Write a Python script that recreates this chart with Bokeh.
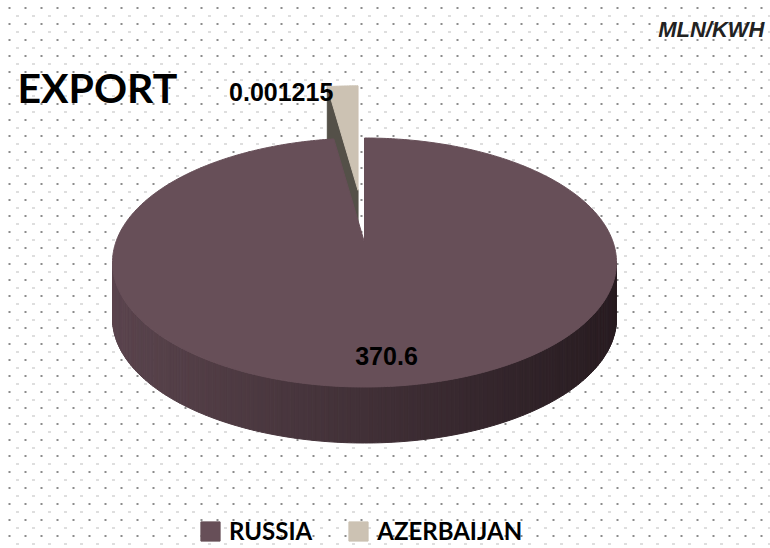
import numpy as np
from bokeh.plotting import figure
from bokeh.models import Range1d, Legend, LegendItem
from bokeh.core.properties import value
from bokeh.embed import file_html
from bokeh.resources import INLINE

# ---- data ----
countries = ["RUSSIA", "AZERBAIJAN"]
values = [370.6, 0.001215]
value_labels = ["370.6", "0.001215"]
top_colors = ["#674F58", "#CCC2B3"]
face_colors = ["#5A454E", "#545048"]
title_text = "EXPORT"
unit_text = "MLN/KWH"

# ---- layout / style ----
W, H = 770, 548
cx, cy, rx, ry = 364.0, 262.0, 252.0, 124.5
apex_dy = -20.0
depth = 56.0
min_angle = 7.0
explode = [0.0, 0.42]
side_left = np.array([0x5A, 0x44, 0x4D], float)
side_right = np.array([0x28, 0x1C, 0x21], float)

p = figure(width=W, height=H, output_backend="svg", toolbar_location=None,
           x_range=Range1d(0, W), y_range=Range1d(H, 0),
           x_axis_type=None, y_axis_type=None, min_border=0)
p.grid.visible = False
p.outline_line_color = None
p.background_fill_color = "white"

# dotted background
gx = np.arange(9, W, 16.0)
gy = np.arange(7.5, H, 16.0)
X1, Y1 = np.meshgrid(gx, gy)
p.rect(X1.ravel(), Y1.ravel(), width=2, height=2, width_units="screen",
       height_units="screen", fill_color="#8C8C8C", line_color=None)
X2, Y2 = np.meshgrid(gx + 8, gy + 8)
p.rect(X2.ravel(), Y2.ravel(), width=3, height=1, width_units="screen",
       height_units="screen", fill_color="#BDBDBD", line_color=None)

# angles (clockwise from top)
total = sum(values)
sweeps = [max(v / total * 360.0, min_angle) for v in values]
sweeps[0] = 360.0 - sum(sweeps[1:])
starts = []
a = 90.0
for s in sweeps:
    starts.append(a)
    a -= s


def rim(t, ox=0.0, oy=0.0):
    r = np.radians(t)
    return cx + ox + rx * np.cos(r), cy + oy - ry * np.sin(r)


# --- Azerbaijan (exploded sliver) ---
i = 1
t0, t1 = starts[i], starts[i] - sweeps[i]
bis = np.radians((t0 + t1) / 2)
ox, oy = rx * explode[i] * np.cos(bis), -ry * explode[i] * np.sin(bis)
ax, ay = cx + ox, cy + apex_dy + oy
lx, ly = rim(t0, ox, oy)   # left (counter-clockwise) rim corner
p.patch([ax, lx, lx, ax], [ay, ly, ly + depth, ay + depth],
        fill_color=face_colors[i], line_color=face_colors[i])
ts = np.linspace(t0, t1, 20)
px, py = rim(ts, ox, oy)
az_top = p.patch(np.r_[ax, px], np.r_[ay, py], fill_color=top_colors[i],
                 line_color=top_colors[i])

# --- Russia ---
i = 0
t0, t1 = starts[i], starts[i] - sweeps[i]
edges = np.linspace(-180, 0, 181)
xs, ys, cols = [], [], []
for a0, a1 in zip(edges[:-1], edges[1:]):
    x0, y0 = rim(a0)
    x1, y1 = rim(a1)
    f = ((x0 + x1) / 2 - (cx - rx)) / (2 * rx)
    c = side_left + (side_right - side_left) * f
    col = "#%02x%02x%02x" % tuple(int(round(v)) for v in c)
    xs.append([x0, x1, x1, x0])
    ys.append([y0, y1, y1 + depth, y0 + depth])
    cols.append(col)
p.patches(xs, ys, fill_color=cols, line_color=cols, line_width=1)
ts = np.linspace(t0, t1, 500)
px, py = rim(ts)
ru_top = p.patch(np.r_[cx, px], np.r_[cy + apex_dy, py], fill_color=top_colors[i],
                 line_color=top_colors[i])

# labels
p.text([cx + 22], [cy + 0.75 * ry], text=[value_labels[0]], text_font=value("Liberation Sans"),
       text_font_style="bold", text_font_size="25px", text_align="center",
       text_baseline="alphabetic", text_color="black")
p.text([lx + 6], [ly + 5], text=[value_labels[1]], text_font=value("Liberation Sans"),
       text_font_style="bold", text_font_size="25px", text_align="right",
       text_baseline="alphabetic", text_color="black")

p.text([17], [87], text=[title_text], text_font=value("Lato"), text_font_style="bold",
       text_font_size="41px", text_align="left", text_baseline="alphabetic",
       text_color="black")
p.text([764], [29], text=[unit_text], text_font=value("Liberation Sans"),
       text_font_style="bold italic", text_font_size="22px", text_align="right",
       text_baseline="alphabetic", text_color="#222222")

legend = Legend(items=[LegendItem(label=countries[0], renderers=[ru_top]),
                       LegendItem(label=countries[1], renderers=[az_top])],
                orientation="horizontal", location=(198, 3),
                glyph_width=24, glyph_height=24, label_standoff=7, spacing=34,
                label_text_font="Lato", label_text_font_style="bold",
                label_text_font_size="24px", label_text_color="black",
                padding=0, margin=0, border_line_color=None,
                background_fill_alpha=0)
p.add_layout(legend, "center")

open("out.html", "w").write(file_html(p, INLINE))
